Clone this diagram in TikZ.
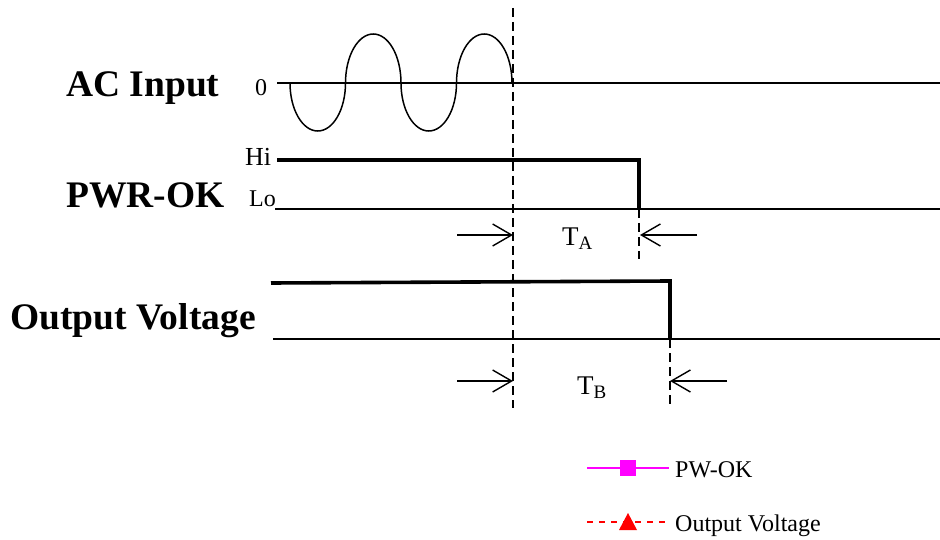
\documentclass[tikz,border=0pt]{standalone}
\usepackage{fontspec}
\setmainfont{Liberation Serif}
\usetikzlibrary{arrows.meta}
\begin{document}
\begin{tikzpicture}[x=1pt,y=-1pt,
  thinline/.style={line width=1.5pt},
  thickline/.style={line width=3.6pt},
  guide/.style={line width=1.4pt, dash pattern=on 9pt off 5pt},
  dimarrow/.style={line width=1.4pt, -{Straight Barb[length=19pt,width=22pt]}},
  title/.style={font=\fontsize{37.5}{40}\selectfont\bfseries, inner sep=0pt, anchor=base west},
  lvl/.style={font=\fontsize{24}{28}\selectfont, inner sep=0pt, anchor=base west},
  tlabel/.style={font=\fontsize{27}{30}\selectfont, inner sep=0pt, anchor=base west},
  legtext/.style={font=\fontsize{24}{26}\selectfont, inner sep=0pt, anchor=base west},
]
\useasboundingbox (0,0) rectangle (940,540);

% titles
\node[title] (ac) at (66,97) {AC Input};
\node[title] (pwr) at (66,208) {PWR-OK};
\node[title] (out) at (10,329) {Output Voltage};

% level labels
\node[lvl] (zero) at (255,96) {0};
\node[lvl, font=\fontsize{26}{28}\selectfont] (hi) at (245,166) {Hi};
\node[lvl] (lo) at (249,207) {Lo};

% AC input
\coordinate (acL) at (277,83);
\coordinate (acR) at (940,83);
\draw[thinline] (acL) -- (acR);
\draw[line width=1.5pt] (290,83)
  arc[start angle=180,end angle=360,x radius=27.75pt,y radius=48pt]
  arc[start angle=180,end angle=0,x radius=27.75pt,y radius=49pt]
  arc[start angle=180,end angle=360,x radius=27.75pt,y radius=48pt]
  arc[start angle=180,end angle=0,x radius=27.75pt,y radius=49pt];

% PWR-OK
\coordinate (hiL) at (277,160);
\coordinate (hiR) at (639,160);
\coordinate (hiD) at (639,209);
\coordinate (loL) at (275,209);
\coordinate (loR) at (940,209);
\draw[thinline] (loL) -- (loR);
\draw[thickline, line join=miter] (hiL) -- (hiR) -- (hiD);

% Output voltage
\coordinate (ovL) at (271,283);
\coordinate (ovR) at (670,281);
\coordinate (ovD) at (670,339);
\coordinate (obL) at (273,339);
\coordinate (obR) at (940,339);
\draw[thinline] (obL) -- (obR);
\draw[thickline, line join=miter] (ovL) -- (ovR) -- (ovD);

% guides
\coordinate (g1t) at (513,8);
\coordinate (g1b) at (513,408);
\draw[guide] (g1t) -- (g1b);
\coordinate (g2t) at (639,209);
\coordinate (g2b) at (639,259);
\draw[guide] (g2t) -- (g2b);
\coordinate (g3t) at (670,339);
\coordinate (g3b) at (670,405);
\draw[guide] (g3t) -- (g3b);

% dimension arrows TA
\coordinate (a1s) at (457,235);
\coordinate (a1e) at (513,235);
\coordinate (a2s) at (697,235);
\coordinate (a2e) at (640,235);
\draw[dimarrow] (a1s) -- (a1e);
\draw[dimarrow] (a2s) -- (a2e);
\node[tlabel] (ta) at (562,246) {T\raisebox{-4pt}{\fontsize{19}{20}\selectfont A}};

% dimension arrows TB
\coordinate (b1s) at (457,381);
\coordinate (b1e) at (513,381);
\coordinate (b2s) at (727,381);
\coordinate (b2e) at (670,381);
\draw[dimarrow] (b1s) -- (b1e);
\draw[dimarrow] (b2s) -- (b2e);
\node[tlabel] (tb) at (577,394) {T\raisebox{-4pt}{\fontsize{19}{20}\selectfont B}};

% legend
\definecolor{pmag}{RGB}{255,0,255}
\coordinate (l1a) at (587,468);
\coordinate (l1b) at (669,468);
\draw[pmag, line width=2pt] (l1a) -- (l1b);
\node[fill=pmag, minimum size=16pt, inner sep=0pt] (sq) at (628,468) {};
\node[legtext] (leg1) at (675,477) {PW-OK};

\coordinate (l2a) at (587,522);
\coordinate (l2b) at (670,522);
\draw[red, line width=2pt, dash pattern=on 6pt off 6pt] (l2a) -- (l2b);
\fill[red] (619,530) -- (628,513) -- (637,530) -- cycle;
\node[legtext] (leg2) at (675,531) {Output Voltage};
\end{tikzpicture}
\end{document}
